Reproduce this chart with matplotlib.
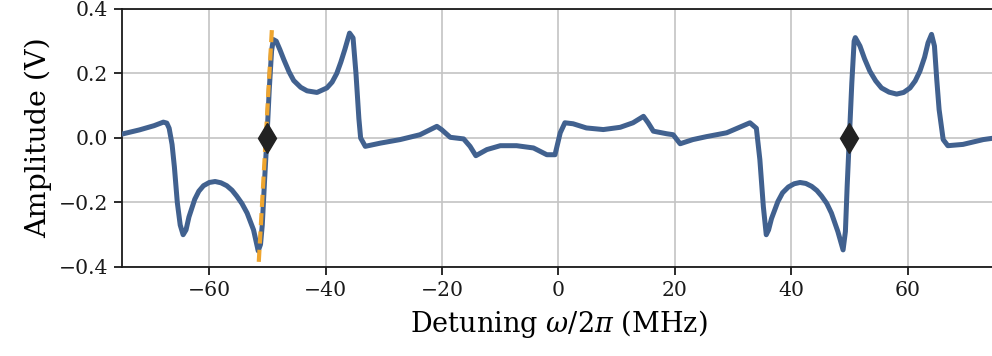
import matplotlib
matplotlib.use("Agg")
import matplotlib.pyplot as plt

# Detuning (MHz) and amplitude (V) of the measured error signal
detuning = [-75.0, -72.0, -69.5, -67.9, -67.3, -66.9, -66.4, -66.0, -65.5, -65.0, -64.5,
            -64.0, -63.5, -62.5, -61.8, -61.0, -60.0, -59.0, -58.0, -57.0, -56.1, -55.3,
            -54.4, -53.5, -52.4, -51.6,
            -51.2, -50.9, -50.5, -50.1, -49.7, -49.3, -49.0, -48.5, -47.9, -47.2, -46.3, -45.5,
            -44.3, -43.2, -41.5, -39.8, -38.9, -38.1, -37.4, -36.7, -35.9, -35.3, -34.8, -34.3, -34.0,
            -33.2, -30.6, -27.2, -23.8, -20.9, -20.1, -18.6, -16.3, -15.2, -14.2,
            -12.3, -10.0, -7.2, -4.3, -2.0, -0.6, 0.3, 1.1, 2.5, 4.8,
            7.7, 10.6, 12.8, 14.6, 15.4, 16.3, 18.6, 19.7, 20.9, 23.1,
            25.4, 28.9, 32.9, 34.0, 34.6, 35.2, 35.7, 36.1, 36.6, 37.7, 38.5, 39.5,
            40.5, 41.5, 42.5, 43.5, 44.4, 45.2, 46.1, 46.9, 48.0, 48.9, 49.3, 49.6, 49.97, 50.4,
            50.8, 51.0, 51.8, 52.6, 53.5, 54.5, 55.5, 56.8, 58.1, 59.3, 60.4, 61.3, 62.1, 62.9,
            63.5, 64.1, 64.6, 65.0, 65.4, 66.1, 66.9, 69.5, 73.0, 75.0]
amplitude = [0.012, 0.025, 0.038, 0.049, 0.046, 0.030, -0.02, -0.09, -0.20, -0.27, -0.30,
             -0.285, -0.245, -0.19, -0.165, -0.148, -0.138, -0.135, -0.139, -0.148, -0.162, -0.18,
             -0.203, -0.233, -0.285, -0.35,
             -0.33, -0.27, -0.13, 0.0, 0.15, 0.27, 0.305, 0.30, 0.275, 0.243, 0.205, 0.178,
             0.157, 0.146, 0.141, 0.155, 0.173, 0.20, 0.235, 0.275, 0.325, 0.31, 0.20, 0.06, 0.0,
             -0.026, -0.016, -0.005, 0.01, 0.036, 0.026, 0.002, -0.003, -0.026, -0.055,
             -0.036, -0.024, -0.024, -0.031, -0.052, -0.052, 0.016, 0.047, 0.044, 0.031,
             0.026, 0.033, 0.047, 0.067, 0.047, 0.021, 0.013, 0.01, -0.018, -0.005,
             0.004, 0.016, 0.047, 0.03, -0.067, -0.213, -0.30, -0.285, -0.25, -0.197, -0.17, -0.152,
             -0.142, -0.138, -0.141, -0.15, -0.163, -0.18, -0.203, -0.233, -0.29, -0.347, -0.29, -0.15, 0.0, 0.17,
             0.30, 0.311, 0.285, 0.245, 0.207, 0.177, 0.155, 0.142, 0.136, 0.141, 0.155, 0.177, 0.207, 0.25,
             0.295, 0.321, 0.285, 0.18, 0.088, -0.005, -0.024, -0.02, -0.005, 0.0]

# Linear fit of the slope around the lock point
fit_x = [-51.5, -49.2]
fit_y = [-0.384, 0.352]

# Lock points (zero crossings)
lock_x = [-50.1, 49.97]
lock_y = [0.0, 0.0]

xticks = [-60, -40, -20, 0, 20, 40, 60]
yticks = [-0.4, -0.2, 0.0, 0.2, 0.4]

plt.rcParams['font.family'] = ['DejaVu Serif']
plt.rcParams['mathtext.fontset'] = 'dejavuserif'
plt.rcParams['axes.unicode_minus'] = True

fig = plt.figure(figsize=(9.92, 3.56), dpi=100)
ax = fig.add_axes([0.123, 0.25, 0.880, 0.725])

ax.plot(detuning, amplitude, color='#41618f', lw=3.6, zorder=3,
        solid_joinstyle='round', solid_capstyle='round')
ax.plot(fit_x, fit_y, color='#eea52f', lw=3.0, ls=(0, (2.9, 1.5)), zorder=4)
ax.plot(lock_x, lock_y, ls='none', marker='d', ms=15, color='#222222', zorder=5)

ax.set_xlim(-75, 75)
ax.set_ylim(-0.4, 0.4)
ax.set_xticks(xticks)
ax.set_yticks(yticks)
ax.set_yticklabels([f"{v:.1f}".replace('-', '\u2212') for v in yticks])
ax.set_xticklabels([f"{v}".replace('-', '\u2212') for v in xticks])
ax.grid(True, color='#c4c4c4', lw=1.2)
ax.set_axisbelow(True)
for s in ax.spines.values():
    s.set_linewidth(1.3)
    s.set_color('#1a1a1a')
ax.tick_params(axis='both', which='major', labelsize=14.7, length=6, width=1.3,
               direction='out', pad=4, colors='#1a1a1a')
ax.set_xlabel(r'Detuning $\omega/2\pi$ (MHz)', fontsize=19.5, labelpad=6)
ax.set_ylabel('Amplitude (V)', fontsize=20.5, labelpad=5)

fig.savefig('out.png', dpi=100)
